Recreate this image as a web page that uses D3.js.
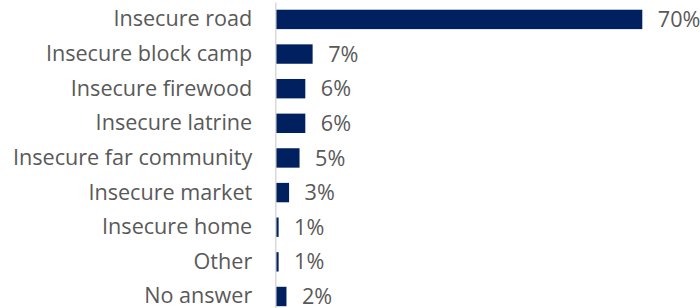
<!DOCTYPE html>
<html>
<head>
<meta charset="utf-8">
<script src="https://cdn.jsdelivr.net/npm/d3@7"></script>
<style>
  html, body { margin: 0; padding: 0; background: #fff; }
  svg { display: block; }
</style>
</head>
<body>
<svg id="chart" width="700" height="308"></svg>
<script>
const categories = ["Insecure road", "Insecure block camp", "Insecure firewood", "Insecure latrine",
  "Insecure far community", "Insecure market", "Insecure home", "Other", "No answer"];
const values = [70, 7.0, 5.6, 5.6, 4.5, 2.5, 0.5, 0.5, 2.0];
const valueLabels = ["70%", "7%", "6%", "6%", "5%", "3%", "1%", "1%", "2%"];

const svg = d3.select("#chart");
const font = "'Open Sans', 'Noto Sans', sans-serif";
const fontSize = 21.6;
const textColor = "#595959";
const barColor = "#002060";

const x0 = 276;
const x = d3.scaleLinear().domain([0, 70]).range([0, 366.3]);
const y = d3.scaleBand().domain(categories).range([2.1, 313.8]).paddingInner(0.44).paddingOuter(0.22);

const g = svg.append("g").attr("transform", `translate(${x0},0)`);

g.selectAll("rect.bar")
  .data(categories)
  .join("rect")
  .attr("class", "bar")
  .attr("x", 0)
  .attr("y", d => y(d))
  .attr("width", (d, i) => x(values[i]))
  .attr("height", y.bandwidth())
  .attr("fill", barColor);

const axis = g.append("g")
  .attr("transform", "translate(-0.75,0)")
  .call(d3.axisLeft(y).tickSize(0).tickSizeOuter(0).tickPadding(23));
axis.select(".domain").attr("stroke", "#d9d9d9").attr("stroke-width", 1.5);
axis.selectAll("text")
  .attr("font-family", font)
  .attr("font-size", fontSize)
  .attr("fill", textColor);

g.selectAll("text.val")
  .data(categories)
  .join("text")
  .attr("class", "val")
  .attr("x", (d, i) => x(values[i]) + 15.5)
  .attr("y", d => y(d) + y.bandwidth() / 2)
  .attr("dy", "0.35em")
  .attr("font-family", font)
  .attr("font-size", fontSize)
  .attr("fill", textColor)
  .text((d, i) => valueLabels[i]);
</script>
</body>
</html>
